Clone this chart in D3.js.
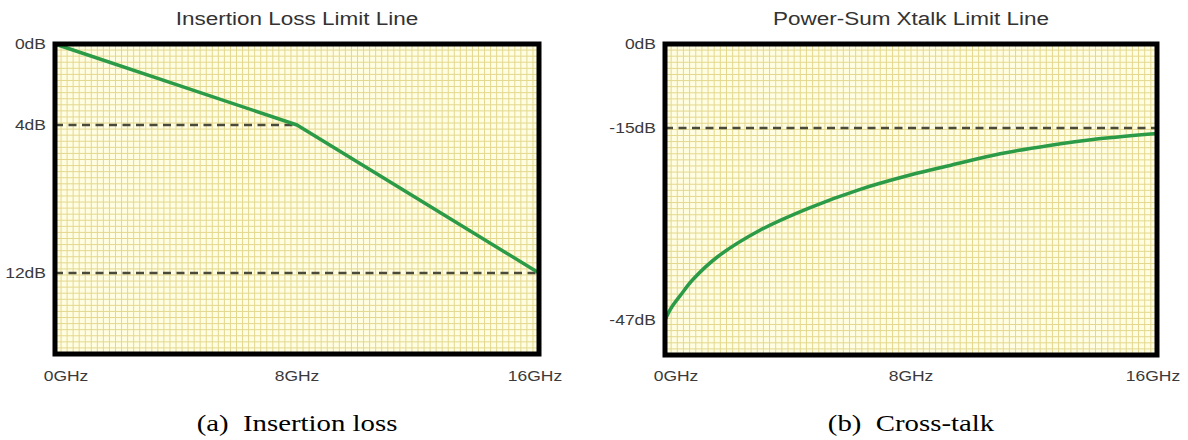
<!DOCTYPE html>
<html><head><meta charset="utf-8">
<script src="https://cdn.jsdelivr.net/npm/d3@7"></script>
<style>
body{margin:0;background:#fff;}
svg{display:block;}
</style></head>
<body>
<svg id="chart" width="1188" height="440"></svg>
<script>
// ---- data ----
const xTickLabels = ["0GHz", "8GHz", "16GHz"];
const xTickValues = [0, 8, 16];

const lossTitle = "Insertion Loss Limit Line";
const lossFreq = [0, 8, 16];
const lossValues = [0, 4, 12];
const lossTickValues = [0, 4, 12];
const lossTickLabels = ["0dB", "4dB", "12dB"];
const lossRefLines = [4, 12];
const lossRefEnds = [8, 16];
const lossCaption = "(a)  Insertion loss";

const xtTitle = "Power-Sum Xtalk Limit Line";
const xtFreq = [0, 0.2, 0.5, 0.9, 1.7, 3.1, 4.7, 6.3, 8.0, 9.3, 10.9, 12.5, 14.1, 16];
const xtValues = [-47, -45.0, -42.9, -40.3, -36.5, -32, -28.3, -25.3, -22.8, -21.2, -19.3, -17.9, -16.8, -15.9];
const xtTickValues = [0, -15, -47];
const xtTickLabels = ["0dB", "-15dB", "-47dB"];
const xtRefLines = [-15];
const xtRefEnds = [16];
const xtCaption = "(b)  Cross-talk";

const svg = d3.select("#chart");
const SX = 1.25; // horizontal stretch of text seen in the reference

function panel(cfg) {
  const g = svg.append("g");
  const x = d3.scaleLinear().domain([0, 16]).range([cfg.left, cfg.right]);
  const y = d3.scaleLinear().domain(cfg.yDomain).range(cfg.yRange);
  const top = cfg.yRange[0], bottom = cfg.yRange[cfg.yRange.length - 1];

  // background
  g.append("rect").attr("x", cfg.left).attr("y", top)
    .attr("width", cfg.right - cfg.left).attr("height", bottom - top)
    .attr("fill", "#fffde2");
  // grid
  const nx = 80, ny = Math.round((bottom - top) / 6.05);
  const gx = d3.range(1, nx).map(i => x(16 * i / nx));
  const gy = d3.range(1, ny).map(i => top + (bottom - top) * i / ny);
  g.append("g").selectAll("line").data(gx).join("line")
    .attr("x1", d => d).attr("x2", d => d).attr("y1", top).attr("y2", bottom)
    .attr("stroke", "#e4d88e").attr("stroke-width", 1);
  g.append("g").selectAll("line").data(gy).join("line")
    .attr("y1", d => d).attr("y2", d => d).attr("x1", cfg.left).attr("x2", cfg.right)
    .attr("stroke", "#e4d88e").attr("stroke-width", 1);

  // reference dashed lines
  g.append("g").selectAll("line").data(cfg.refLines).join("line")
    .attr("x1", x(0)).attr("x2", (d, i) => x(cfg.refEnds[i]))
    .attr("y1", d => y(d)).attr("y2", d => y(d))
    .attr("stroke", "#4a4a3a").attr("stroke-width", 2.5)
    .attr("stroke-dasharray", "8,5.5");

  // data line
  const line = d3.line().x((d, i) => x(cfg.freq[i])).y(d => y(d))
    .curve(cfg.curve);
  g.append("path").datum(cfg.values).attr("d", line)
    .attr("fill", "none").attr("stroke", "#2b9b47").attr("stroke-width", 3.5)
    .attr("stroke-linejoin", "round");

  // frame
  g.append("rect").attr("x", cfg.left).attr("y", top)
    .attr("width", cfg.right - cfg.left).attr("height", bottom - top)
    .attr("fill", "none").attr("stroke", "#000").attr("stroke-width", 5);

  // y tick labels
  g.append("g").selectAll("text").data(cfg.yTicks).join("text")
    .attr("transform", d => `translate(${cfg.left - 9},${y(d) + 5}) scale(${SX},1)`)
    .attr("text-anchor", "end")
    .style("font-family", "Liberation Sans, Arial, sans-serif")
    .style("font-size", "14px").attr("fill", "#3a3a3a")
    .text((d, i) => cfg.yLabels[i]);

  // x tick labels
  const xOff = [11, 0, -4];
  g.append("g").selectAll("text").data(xTickValues).join("text")
    .attr("transform", (d, i) => `translate(${x(d) + xOff[i]},${381}) scale(${SX},1)`)
    .attr("text-anchor", "middle")
    .style("font-family", "Liberation Sans, Arial, sans-serif")
    .style("font-size", "14px").attr("fill", "#3a3a3a")
    .text((d, i) => xTickLabels[i]);

  // title
  g.append("text")
    .attr("transform", `translate(${(cfg.left + cfg.right) / 2},${25}) scale(${SX},1)`)
    .attr("text-anchor", "middle")
    .style("font-family", "Liberation Sans, Arial, sans-serif")
    .style("font-size", "18px").attr("fill", "#333")
    .text(cfg.title);

  // caption
  g.append("text")
    .attr("transform", `translate(${(cfg.left + cfg.right) / 2},${431}) scale(1.2,1)`)
    .attr("text-anchor", "middle")
    .style("font-family", "Liberation Serif, Times New Roman, serif")
    .style("font-size", "24px").attr("fill", "#000")
    .style("white-space", "pre").attr("xml:space", "preserve")
    .text(cfg.caption);
}

panel({
  left: 55, right: 539,
  yDomain: [0, 4, 12, 16], yRange: [44, 125, 273, 354],
  freq: lossFreq, values: lossValues, curve: d3.curveLinear,
  yTicks: lossTickValues, yLabels: lossTickLabels,
  refLines: lossRefLines, refEnds: lossRefEnds,
  title: lossTitle, caption: lossCaption
});

panel({
  left: 665, right: 1157,
  yDomain: [0, -15, -47, -53], yRange: [44, 128, 320, 355],
  freq: xtFreq, values: xtValues, curve: d3.curveCatmullRom.alpha(0.5),
  yTicks: xtTickValues, yLabels: xtTickLabels,
  refLines: xtRefLines, refEnds: xtRefEnds,
  title: xtTitle, caption: xtCaption
});
</script>
</body></html>
